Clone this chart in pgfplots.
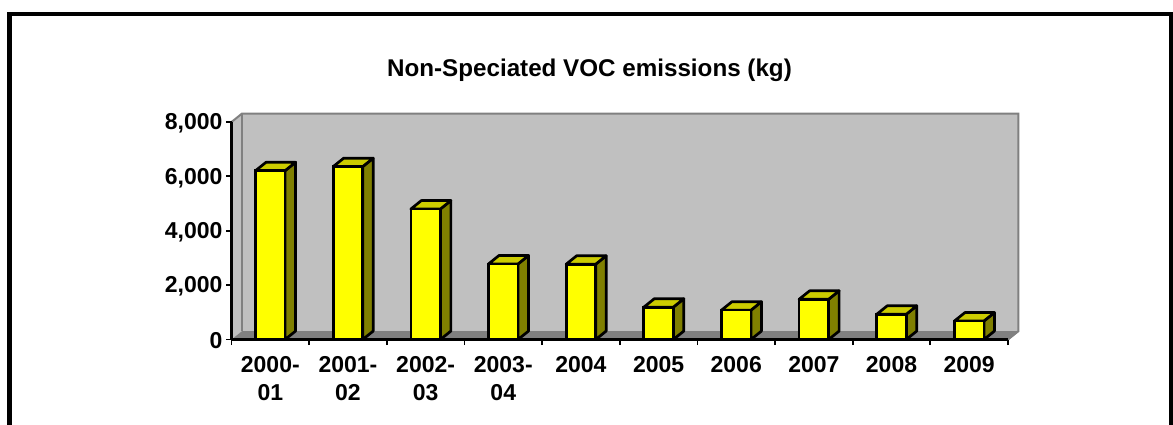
\documentclass[border=0pt]{standalone}
\usepackage{fontspec}
\setmainfont{Liberation Sans}
\usepackage{pgfplots}
\usepackage{pgfplotstable}
\pgfplotsset{compat=1.18}

\definecolor{wall}{HTML}{C0C0C0}
\definecolor{floorc}{HTML}{808080}
\definecolor{sidec}{HTML}{808000}
\definecolor{topc}{HTML}{CCCC00}
\definecolor{barc}{HTML}{FFFF00}

\pgfplotstableread{
x v
0 6210
1 6360
2 4800
3 2780
4 2770
5 1190
6 1080
7 1480
8 930
9 680
}\vocdata

% depth of the fake 3d, in axis units
\def\dx{0.135}
\def\dy{310}

\begin{document}
\begin{tikzpicture}[x=1pt,y=1pt]
\useasboundingbox (0,0) rectangle (1173,424);
\draw[line width=4.4pt,miter limit=10] (9.5,-5) -- (9.5,410) -- (1171.3,410) -- (1171.3,-5);
\begin{axis}[
    at={(231.5pt,84.5pt)},
    anchor=south west,
    scale only axis,
    width=776.5pt,
    height=217.5pt,
    xmin=-0.5, xmax=9.5,
    ymin=0, ymax=8000,
    clip=false,
    axis on top,
    axis x line=bottom,
    axis y line=left,
    axis line style={-,line width=2.6pt,black},
    xtick={-0.5,0.5,...,9.5},
    x tick label as interval,
    xticklabels={{2000-\\01},{2001-\\02},{2002-\\03},{2003-\\04},2004,2005,2006,2007,2008,2009},
    ytick={0,2000,4000,6000,8000},
    tick style={line width=1.8pt,black},
    major tick length=5.5pt,
    tick align=outside,
    ticklabel style={font=\fontsize{23}{28}\selectfont\bfseries},
    xticklabel style={align=center,yshift=-8pt},
    yticklabel style={yshift=-1.5pt},
    /pgf/number format/assume math mode=true,
    /pgf/number format/fixed,
    /pgf/number format/1000 sep={,},
    title={Non-Speciated VOC emissions (kg)},
    title style={at={(rel axis cs:0.461,1.21)},anchor=center,font=\fontsize{24.2}{28}\selectfont\bfseries},
]
    % walls
    \addplot[fill=wall,draw=none] coordinates {(-0.365,310) (9.635,310) (9.635,8310) (-0.365,8310)} -- cycle;
    \addplot[fill=wall,draw=none] coordinates {(-0.5,0) (-0.365,310) (-0.365,8310) (-0.5,8000)} -- cycle;
    \addplot[fill=floorc,draw=none] coordinates {(-0.5,0) (9.5,0) (9.635,310) (-0.365,310)} -- cycle;
    \addplot[draw=floorc,line width=2pt] coordinates {(-0.5,8000) (-0.365,8310) (9.635,8310) (9.635,310) (9.5,0)};
    \addplot[draw=floorc,line width=2pt] coordinates {(-0.365,8310) (-0.365,310)};
    % side and top faces of the bars
    \pgfplotsforeachungrouped \i in {0,...,9}{
        \pgfplotstablegetelem{\i}{v}\of\vocdata
        \let\val\pgfplotsretval
        \pgfmathsetmacro\xl{\i-0.19}
        \pgfmathsetmacro\xr{\i+0.19}
        \pgfmathsetmacro\xlb{\xl+\dx}
        \pgfmathsetmacro\xrb{\xr+\dx}
        \pgfmathsetmacro\yb{\val+\dy}
        \edef\faces{
            \noexpand\addplot[fill=sidec,draw=black,line width=2.7pt,line join=round] coordinates {(\xr,0) (\xrb,\dy) (\xrb,\yb) (\xr,\val)} -- cycle;
            \noexpand\addplot[fill=topc,draw=black,line width=2.7pt,line join=round] coordinates {(\xl,\val) (\xlb,\yb) (\xrb,\yb) (\xr,\val)} -- cycle;
        }
        \faces
    }
    % front faces
    \addplot[ybar,bar width=29.5pt,fill=barc,draw=black,line width=2.7pt] table[x=x,y=v] {\vocdata};
\end{axis}
\end{tikzpicture}
\end{document}
